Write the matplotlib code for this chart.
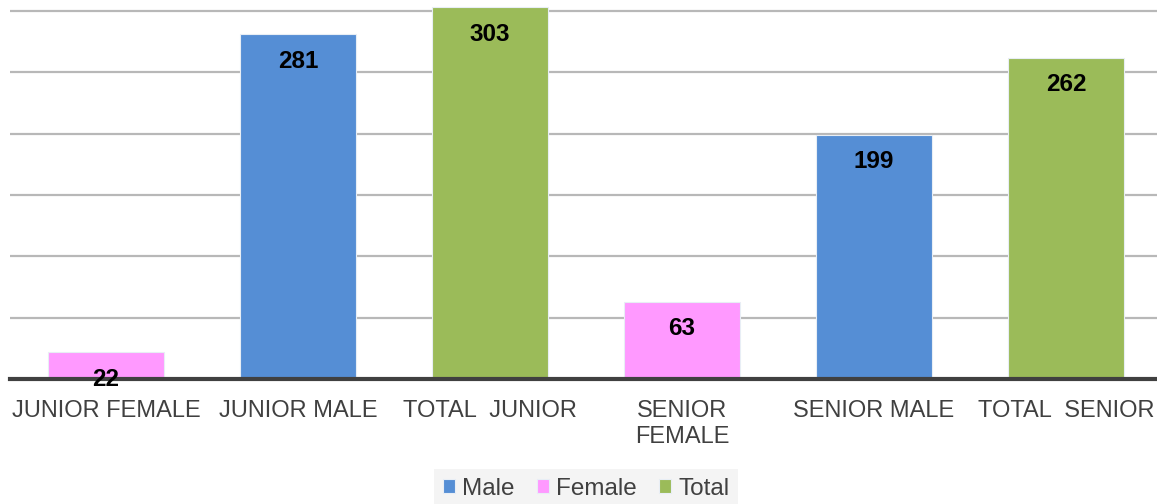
import matplotlib
matplotlib.use("Agg")
import matplotlib.pyplot as plt
import numpy as np

# ====== DATA ======
categories = ["JUNIOR FEMALE", "JUNIOR MALE", "TOTAL  JUNIOR",
              "SENIOR\nFEMALE", "SENIOR MALE", "TOTAL  SENIOR"]
values = [22, 281, 303, 63, 199, 262]
groups = ["Female", "Male", "Total", "Female", "Male", "Total"]

series_names = ["Male", "Female", "Total"]
series_colors = {"Male": "#558ED5", "Female": "#FF99FF", "Total": "#9BBB59"}

plt.rcParams['font.family'] = ['Liberation Sans', 'DejaVu Sans']

fig = plt.figure(figsize=(11.57, 5.04), dpi=100)
ax = fig.add_axes([10 / 1157, 125 / 504, 1152 / 1157, 379 / 504])

x = np.arange(len(categories))
vals = np.array(values)
grp = np.array(groups)

# one bar call per series so the legend picks them up
for name in series_names:
    mask = grp == name
    ax.bar(x[mask], vals[mask], width=0.6, color=series_colors[name],
           edgecolor="#e8eef5", linewidth=0.8, label=name, zorder=3)

# value labels just under the top of each bar
for xi, v in zip(x, values):
    ax.annotate(str(v), xy=(xi, v), xytext=(0, -27), textcoords="offset pixels",
                ha="center", va="center", fontsize=17.5, fontweight="bold",
                color="black", zorder=5)

ax.set_xlim(-0.5, len(categories) - 0.5)
ax.set_ylim(0, 309)
ax.set_yticks([50, 100, 150, 200, 250, 300])
ax.yaxis.grid(True, color="#b8b8b8", linewidth=1.6)
ax.set_axisbelow(True)
ax.tick_params(axis="y", left=False, labelleft=False)

ax.set_xticks(x)
ax.set_xticklabels(categories, fontsize=17, color="#404040", linespacing=1.25)
ax.tick_params(axis="x", length=0, pad=15)

for side in ["top", "right", "left"]:
    ax.spines[side].set_visible(False)
ax.spines["bottom"].set_color("#404040")
ax.spines["bottom"].set_linewidth(3)
ax.spines["bottom"].set_zorder(4)

leg = fig.legend(loc="center", bbox_to_anchor=(586 / 1157, 1 - 489 / 504), ncol=3,
                 fontsize=17.5, frameon=True, facecolor="#f2f2f2", edgecolor="none",
                 fancybox=False, handlelength=0.5, handleheight=0.5,
                 handletextpad=0.3, columnspacing=0.9, borderpad=0.35)
for t in leg.get_texts():
    t.set_color("#404040")

fig.savefig("out.png", dpi=100)
